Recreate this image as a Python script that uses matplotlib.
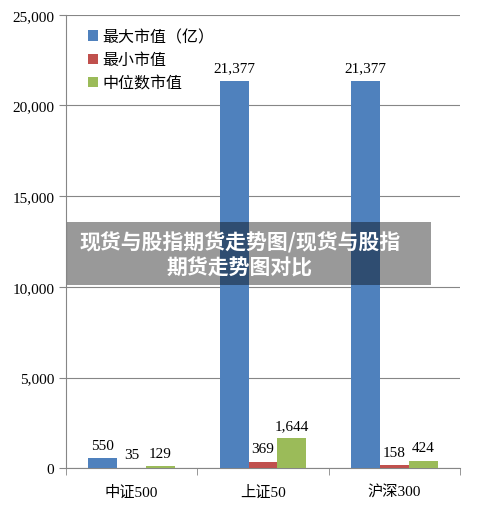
import numpy as np
import matplotlib.pyplot as plt
from matplotlib.patches import Rectangle

plt.rcParams['font.family'] = ['Liberation Serif', 'Noto Sans CJK SC']

categories = ['中证500', '上证50', '沪深300']
series_names = ['最大市值（亿）', '最小市值', '中位数市值']
max_vals = [550, 21377, 21377]
min_vals = [35, 369, 158]
med_vals = [129, 1644, 424]
colors = ['#4f81bd', '#c0504d', '#9bbb59']

fig = plt.figure(figsize=(5, 5.1), dpi=100)
ax = fig.add_axes([0.132, 0.08, 0.788, 0.889])

x = np.arange(len(categories))
w = 0.22
for i, (vals, name) in enumerate(zip([max_vals, min_vals, med_vals], series_names)):
    bars = ax.bar(x + (i - 1) * w, vals, width=w, color=colors[i], label=name, zorder=3)
    for b, v in zip(bars, vals):
        ax.text(b.get_x() + b.get_width() / 2, v + 350, f'{v:,}', ha='center', va='bottom',
                fontsize=11)

ax.set_xlim(-0.5, 2.5)
ax.set_ylim(0, 25000)
ax.set_yticks(np.arange(0, 25001, 5000))
ax.set_yticklabels([f'{t:,}' for t in range(0, 25001, 5000)], fontsize=11)
ax.set_xticks(x)
ax.set_xticklabels(categories, fontsize=11)
ax.set_xticks([-0.5, 0.5, 1.5, 2.5], minor=True)
ax.tick_params(axis='x', which='major', length=0, pad=12)
ax.tick_params(axis='x', which='minor', length=5, color='#868686')
ax.tick_params(axis='y', length=5, color='#868686')
ax.grid(axis='y', color='#868686', linewidth=0.8, zorder=0)
for s in ['top', 'right']:
    ax.spines[s].set_visible(False)
for s in ['left', 'bottom']:
    ax.spines[s].set_color('#868686')

leg = ax.legend(loc='upper left', bbox_to_anchor=(0.02, 1.0), frameon=False, fontsize=11.5,
                handlelength=0.6, handleheight=0.6, handletextpad=0.3, labelspacing=0.45)

# overlay banner
fig.patches.append(Rectangle((67 / 500, 1 - 286 / 510), 364 / 500, 63 / 510,
                             transform=fig.transFigure, facecolor='black', alpha=0.4,
                             zorder=10))
fig.text(240 / 500, 1 - 255 / 510, '现货与股指期货走势图/现货与股指\n期货走势图对比',
         ha='center', va='center', color='white', fontsize=15, fontweight='bold',
         family=['Noto Sans CJK SC', 'DejaVu Sans'], linespacing=1.25, zorder=11)

fig.savefig('out.png', dpi=100)
